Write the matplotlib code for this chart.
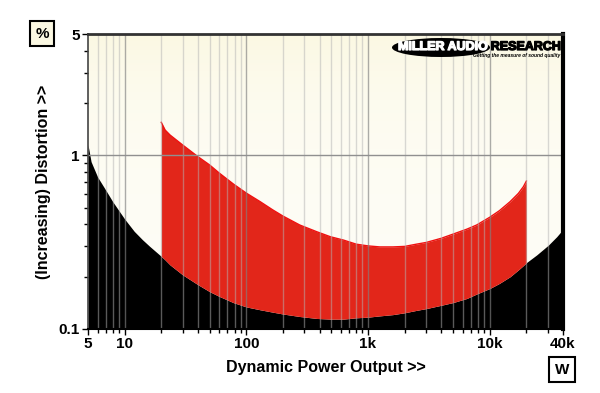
import numpy as np
import matplotlib
matplotlib.use("Agg")
import matplotlib.pyplot as plt
import matplotlib.patheffects as pe
from matplotlib.patches import Ellipse
from matplotlib.colors import LinearSegmentedColormap
from matplotlib.ticker import FixedLocator, NullFormatter, FixedFormatter

plt.rcParams['font.family'] = ['Liberation Sans', 'DejaVu Sans']

# dynamic power (W) and distortion (%)
power = [5, 5.3, 6, 7, 8, 10, 12, 14, 16,
         20, 21.5, 23.6, 30, 40, 50, 60, 78, 100, 130, 165, 200, 275, 380,
         490, 630, 800, 1000, 1250, 1600, 2000, 2500, 3000, 4000, 5000,
         6500, 7800, 10000, 12000, 14700, 17200, 18900, 20000,
         24300, 30300, 35500, 40000]
thd_floor = [1.15, 0.92, 0.75, 0.63, 0.54, 0.43, 0.365, 0.327, 0.30,
             0.262, 0.25, 0.234, 0.205, 0.180, 0.164, 0.154, 0.142, 0.134,
             0.129, 0.125, 0.122, 0.118, 0.115, 0.114, 0.114, 0.116, 0.117,
             0.119, 0.121, 0.124, 0.128, 0.131, 0.137, 0.142, 0.150, 0.159,
             0.171, 0.183, 0.200, 0.219, 0.232, 0.241,
             0.267, 0.304, 0.340, 0.375]
thd_upper = [np.nan] * 9 + [
             1.55, 1.40, 1.31, 1.147, 0.983, 0.880, 0.79, 0.685, 0.606,
             0.541, 0.485, 0.447, 0.397, 0.363, 0.340, 0.325, 0.308, 0.301,
             0.297, 0.297, 0.299, 0.308, 0.315, 0.333, 0.352, 0.376, 0.397,
             0.440, 0.480, 0.541, 0.604, 0.660, 0.711] + [np.nan] * 4

x_ticks = [5, 10, 100, 1000, 10000, 40000]
x_labels = ['5', '10', '100', '1k', '10k', '40k']
y_ticks = [0.1, 1, 5]
y_labels = ['0.1', '1', '5']

power = np.array(power)
thd_floor = np.array(thd_floor)
thd_upper = np.array(thd_upper)

fig = plt.figure(figsize=(6, 3.93), dpi=100)
ax = fig.add_axes([88/600, 1 - 329/393, 475/600, 295/393])
ax.set_xscale('log')
ax.set_yscale('log')

# cream background gradient
grad = np.linspace(0, 1, 256).reshape(-1, 1)
bg = LinearSegmentedColormap.from_list('bg', ['#fbf8e2', '#fefdf6'])
ax.imshow(grad, cmap=bg, aspect='auto', extent=[5, 40000, 0.1, 5],
          origin='upper', zorder=0)

ax.fill_between(power, 0.05, thd_floor, color='black', lw=0, zorder=1)
m = ~np.isnan(thd_upper)
ax.fill_between(power[m], thd_floor[m], thd_upper[m], color='#e2261a',
                lw=0, zorder=2)
ax.plot(power[m], thd_upper[m], color='#f01010', lw=1, zorder=2.5)
ax.set_xlim(5, 40000)
ax.set_ylim(0.1, 5)

# grid
minor_x = []
for dec in [1, 10, 100, 1000, 10000]:
    for k in range(2, 10):
        v = k * dec
        if 5 < v < 40000:
            minor_x.append(v)
for v in minor_x:
    ax.axvline(v, color='#b4b4b4', alpha=0.5, lw=1, zorder=3)
for v in [10, 100, 1000, 10000]:
    ax.axvline(v, color='#808080', alpha=0.65, lw=1, zorder=3)
ax.axhline(1, color='#909090', lw=1, zorder=3)

ax.xaxis.set_major_locator(FixedLocator(x_ticks))
ax.xaxis.set_major_formatter(FixedFormatter(x_labels))
ax.xaxis.set_minor_locator(FixedLocator(minor_x))
ax.xaxis.set_minor_formatter(NullFormatter())
ax.yaxis.set_major_locator(FixedLocator(y_ticks))
ax.yaxis.set_major_formatter(FixedFormatter(y_labels))
ax.yaxis.set_minor_locator(FixedLocator([0.2, 0.3, 0.4, 0.5, 0.6, 0.7, 0.8, 0.9, 2, 3, 4]))
ax.yaxis.set_minor_formatter(NullFormatter())
ax.tick_params(which='both', direction='out', color='black')
ax.tick_params(which='major', length=4, width=1, labelsize=11, pad=2)
ax.tick_params(which='minor', length=3, width=1)
for lab in ax.get_xticklabels() + ax.get_yticklabels():
    lab.set_fontweight('bold')

ax.spines['top'].set_linewidth(2)
ax.spines['top'].set_color('#333333')
ax.spines['right'].set_linewidth(3)
ax.spines['left'].set_color('#444444')
ax.spines['left'].set_linewidth(1.2)
ax.spines['bottom'].set_linewidth(1.5)
for s in ax.spines.values():
    s.set_zorder(5)

ax.set_xlabel('Dynamic Power Output >>', fontsize=11.5, fontweight='bold', labelpad=6)
ax.set_ylabel('(Increasing) Distortion >>', fontsize=11.5, fontweight='bold', labelpad=5)

# unit boxes
fig.text(42/600, 1 - 33.5/393, '%', fontsize=11, fontweight='bold',
         ha='center', va='center',
         bbox=dict(boxstyle='square,pad=0.35', fc='#fbf8e2', ec='black', lw=1.5))
fig.text(562/600, 1 - 369.5/393, 'W', fontsize=11, fontweight='bold',
         ha='center', va='center',
         bbox=dict(boxstyle='square,pad=0.35', fc='white', ec='black', lw=1.5))

# logo
fig.patches.append(Ellipse((441/600, 1 - 47.5/393), 98/600, 19/393,
                           transform=fig.transFigure, fc='black', ec='none', zorder=10))
fig.text(443/600, 1 - 47/393, 'MILLER AUDIO', color='white', fontsize=9,
         fontweight='heavy', ha='center', va='center', zorder=11,
         path_effects=[pe.withStroke(linewidth=0.9, foreground='white')])
fig.text(561/600, 1 - 47/393, 'RESEARCH', color='black', fontsize=9,
         fontweight='heavy', ha='right', va='center', zorder=11,
         path_effects=[pe.withStroke(linewidth=0.9, foreground='black')])
fig.text(560/600, 1 - 56/393, 'Getting the measure of sound quality', color='black',
         fontsize=3.6, fontweight='bold', style='italic', ha='right', va='center', zorder=11)

fig.savefig('out.png', dpi=100)
